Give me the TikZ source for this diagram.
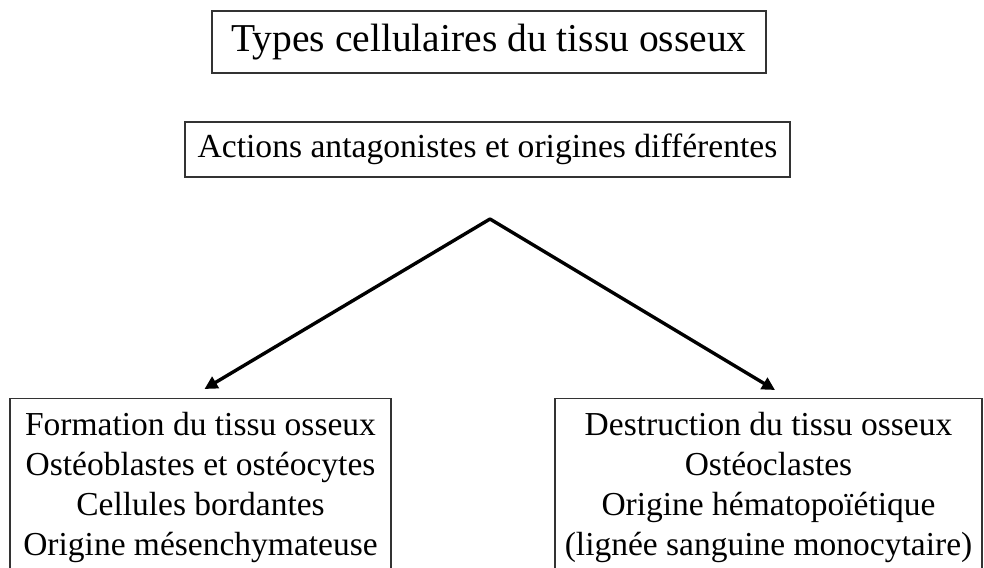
\documentclass[tikz,border=0pt]{standalone}
\usepackage{fontspec}
\setmainfont{Liberation Serif}
\usetikzlibrary{arrows.meta}
\begin{document}
\begin{tikzpicture}[x=1pt,y=-1pt,
  boxstyle/.style={draw=black!80, line width=1.3pt, rectangle, inner sep=0pt},
  bodybox/.style={draw=black!80, line width=1.3pt, rectangle, align=center,
    inner xsep=4pt, inner ysep=13.8pt, anchor=north,
    font=\fontsize{33.5}{40}\selectfont},
  arrowstyle/.style={line width=3.4pt, line cap=round, -{Triangle[length=13pt,width=13pt]}}]
\useasboundingbox (0,0) rectangle (984,567);
\node[boxstyle, minimum width=554pt, minimum height=62pt,
  font=\fontsize{39.5}{44}\selectfont] (title) at (489,42) {Types cellulaires du tissu osseux};
\node[boxstyle, minimum width=605pt, minimum height=55pt,
  font=\fontsize{33.6}{40}\selectfont] (actions) at (487.5,149.5) {Actions antagonistes et origines différentes};
\node[bodybox, minimum width=381pt] (formation) at (200.5,398)
  {Formation du tissu osseux\\Ostéoblastes et ostéocytes\\Cellules bordantes\\Origine mésenchymateuse};
\node[bodybox, minimum width=427pt] (destruction) at (768.5,398)
  {Destruction du tissu osseux\\Ostéoclastes\\Origine hématopoïétique\\(lignée sanguine monocytaire)};
\coordinate (apex) at (490,219);
\coordinate (lefttip) at ([shift={(4pt,9pt)}]formation.north);
\coordinate (righttip) at ([shift={(6.5pt,8pt)}]destruction.north);
\draw[arrowstyle] (apex) -- (lefttip);
\draw[arrowstyle] (apex) -- (righttip);
\end{tikzpicture}
\end{document}
